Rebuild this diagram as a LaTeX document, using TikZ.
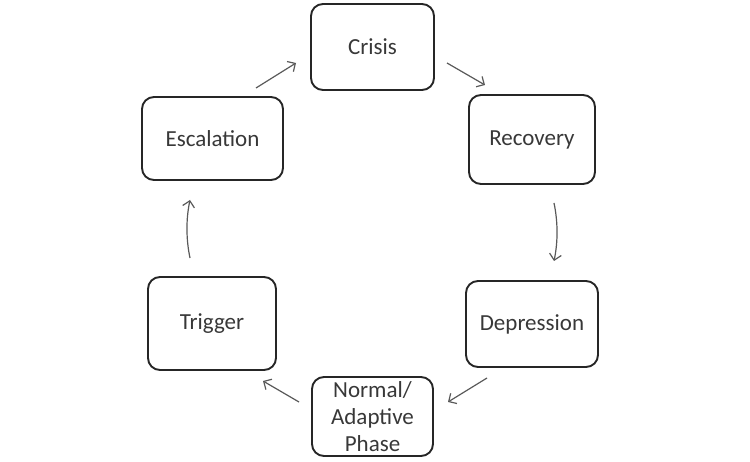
\documentclass[tikz,border=0pt]{standalone}
\usepackage{fontspec}
\setmainfont{Carlito}
\usetikzlibrary{arrows.meta}
\begin{document}
\begin{tikzpicture}[x=1pt,y=-1pt,
  stagebox/.style={draw=black!85, line width=1.9pt, rounded corners=12pt, inner sep=0pt,
    text=black!78, font=\fontsize{23}{27}\selectfont, align=center},
  flow/.style={draw=black!65, line width=1.2pt, -{Straight Barb[length=6pt,width=12pt]}}]
\useasboundingbox (0,0) rectangle (750,462);
\node[stagebox, minimum width=123pt, minimum height=86pt] (crisis) at (372.5,47) {Crisis};
\node[stagebox, minimum width=126pt, minimum height=89pt] (recovery) at (532,139.5) {Recovery};
\node[stagebox, minimum width=132pt, minimum height=86pt] (depression) at (532,324) {Depression};
\node[stagebox, minimum width=121pt, minimum height=79pt] (normal) at (372.5,416.5) {Normal/\\Adaptive\\Phase};
\node[stagebox, minimum width=128pt, minimum height=93pt] (trigger) at (212,323.5) {Trigger};
\node[stagebox, minimum width=141pt, minimum height=83pt] (escalation) at (212.5,138.5) {Escalation};
\coordinate (e1s) at (256,88);  \coordinate (e1e) at (296,63);
\coordinate (e2s) at (447,63);  \coordinate (e2e) at (485,85);
\coordinate (e3s) at (554,203); \coordinate (e3e) at (554,261);
\coordinate (e4s) at (487,378); \coordinate (e4e) at (448,402);
\coordinate (e5s) at (299,402); \coordinate (e5e) at (263,381);
\coordinate (e6s) at (190,258); \coordinate (e6e) at (190,200);
\draw[flow] (e1s) -- (e1e);
\draw[flow] (e2s) -- (e2e);
\draw[flow] (e3s) .. controls (558,222) and (558,242) .. (e3e);
\draw[flow] (e4s) -- (e4e);
\draw[flow] (e5s) -- (e5e);
\draw[flow] (e6s) .. controls (186,239) and (186,219) .. (e6e);
\end{tikzpicture}
\end{document}
